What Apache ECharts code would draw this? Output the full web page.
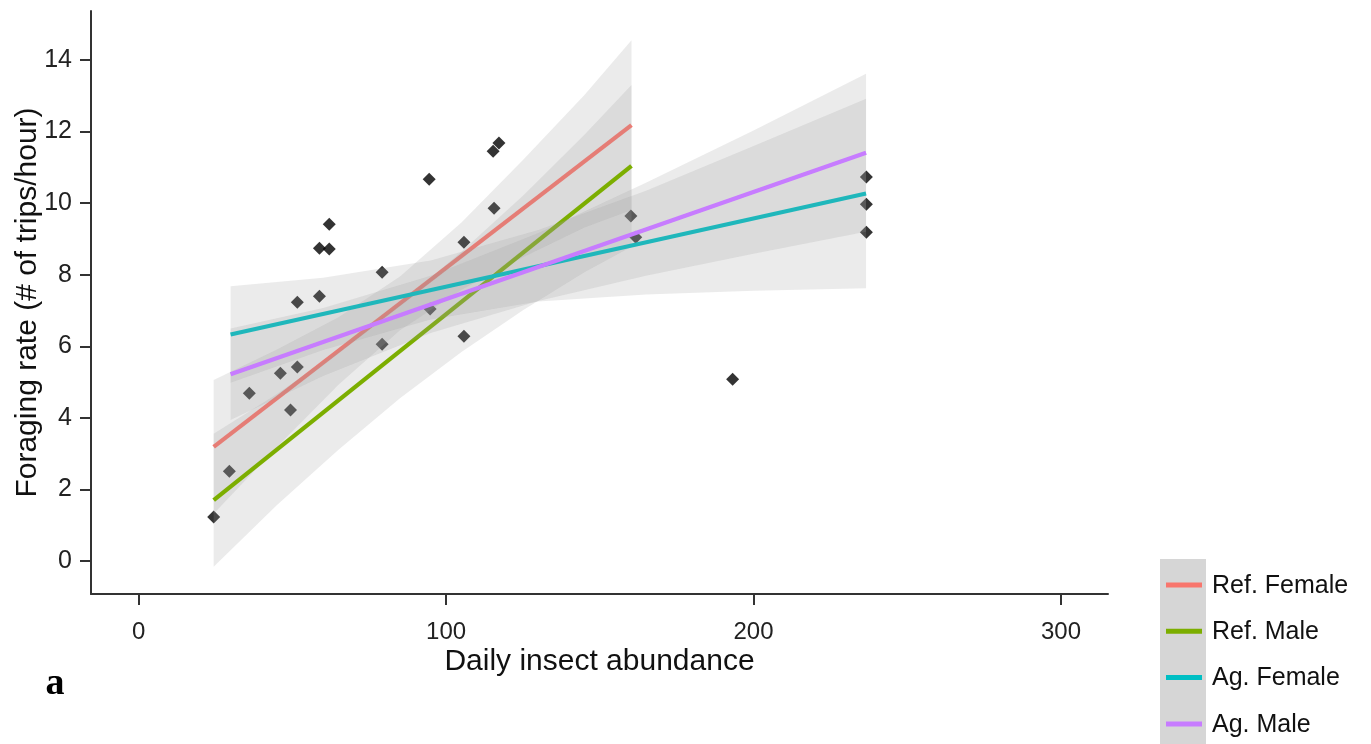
<!DOCTYPE html>
<html>
<head>
<meta charset="utf-8">
<title>Foraging rate vs daily insect abundance</title>
<script src="https://cdn.jsdelivr.net/npm/echarts@6/dist/echarts.min.js"></script>
<style>
  html, body { margin: 0; padding: 0; background: #fff; }
  #chart { width: 1371px; height: 744px; }
</style>
</head>
<body>
<div id="chart"></div>
<script>
// Observed days: insect abundance and foraging trips per hour
const abundance = [24.4, 29.5, 36.0, 46.1, 49.4, 51.6, 51.6, 58.8, 58.8, 62.0, 62.0, 79.2, 79.2,
  94.5, 94.8, 105.8, 105.8, 115.6, 115.3, 117.2, 160.1, 161.7, 193.2, 236.7, 236.7, 236.7];
const foragingRate = [1.23, 2.51, 4.69, 5.25, 4.22, 5.42, 7.23, 7.40, 8.74, 8.72, 9.41, 8.07, 6.06,
  10.67, 7.04, 8.91, 6.28, 9.86, 11.45, 11.68, 9.64, 9.05, 5.08, 10.73, 9.97, 9.19];

// Group names and colours
const groupNames = ['Ref. Female', 'Ref. Male', 'Ag. Female', 'Ag. Male'];
const groupColors = ['#F8766D', '#7CAE00', '#00BFC4', '#C77CFF'];

// Fitted regression lines (start and end of each fit)
const refFemaleFit = [[24.4, 3.19], [160.3, 12.18]];
const refMaleFit = [[24.4, 1.70], [160.3, 11.04]];
const agFemaleFit = [[29.9, 6.33], [236.6, 10.27]];
const agMaleFit = [[29.9, 5.22], [236.6, 11.41]];

// Confidence bands of the fits
const refBandX = [24.4, 45, 65, 85, 105, 125, 145, 160.3];
const refFemaleLower = [1.32, 3.19, 4.93, 6.45, 7.58, 8.49, 9.32, 9.81];
const refFemaleUpper = [5.06, 5.91, 6.81, 7.95, 9.46, 11.21, 13.02, 14.55];
const refMaleLower = [-0.16, 1.57, 3.11, 4.55, 5.84, 7.01, 8.07, 8.78];
const refMaleUpper = [3.56, 4.67, 5.87, 7.19, 8.64, 10.21, 11.91, 13.30];

const agBandX = [29.9, 60, 95, 130, 165, 200, 236.6];
const agFemaleLower = [4.98, 5.90, 6.75, 7.25, 7.45, 7.55, 7.62];
const agFemaleUpper = [7.68, 7.92, 8.40, 9.25, 10.35, 11.60, 12.92];
const agMaleLower = [3.94, 5.17, 6.37, 7.27, 7.97, 8.59, 9.20];
const agMaleUpper = [6.50, 7.07, 7.97, 9.17, 10.57, 12.03, 13.62];

// Axis ticks
const xTicks = [0, 100, 200, 300];
const yTicks = [0, 2, 4, 6, 8, 10, 12, 14];

const FONT = '"Liberation Sans", Arial, sans-serif';
const BAND_FILL = 'rgba(153,153,153,0.2)';
const AXIS_COLOR = '#333333';

function bandRows(xs, lo, hi) {
  return xs.map((x, i) => [x, lo[i], hi[i]]);
}

// A ribbon drawn as one polygon through the axis scales
function ribbonSeries(rows, z) {
  return {
    type: 'custom',
    z: z,
    silent: true,
    data: rows,
    encode: { x: 0, y: [1, 2] },
    renderItem: function (params, api) {
      if (params.dataIndex !== 0) return null;
      const upper = rows.map(r => api.coord([r[0], r[2]]));
      const lower = rows.slice().reverse().map(r => api.coord([r[0], r[1]]));
      return {
        type: 'polygon',
        shape: { points: upper.concat(lower) },
        style: { fill: BAND_FILL, stroke: null }
      };
    }
  };
}

function fitSeries(name, data, color, z) {
  return {
    type: 'line',
    name: name,
    z: z,
    silent: true,
    data: data,
    symbol: 'none',
    lineStyle: { color: color, width: 4.2 },
    itemStyle: { color: color }
  };
}

const groups = [
  { band: bandRows(refBandX, refFemaleLower, refFemaleUpper), fit: refFemaleFit },
  { band: bandRows(refBandX, refMaleLower, refMaleUpper), fit: refMaleFit },
  { band: bandRows(agBandX, agFemaleLower, agFemaleUpper), fit: agFemaleFit },
  { band: bandRows(agBandX, agMaleLower, agMaleUpper), fit: agMaleFit }
];

// Points first, then each group's ribbon followed by its line
const series = [{
  type: 'scatter',
  z: 1,
  silent: true,
  data: abundance.map((x, i) => [x, foragingRate[i]]),
  symbol: 'diamond',
  symbolSize: 13,
  itemStyle: { color: '#000000' }
}];
groups.forEach((g, i) => {
  series.push(ribbonSeries(g.band, 2 + 2 * i));
  series.push(fitSeries(groupNames[i], g.fit, groupColors[i], 3 + 2 * i));
});

// Legend: grey key column with coloured strokes and labels
const legendTop = 585, legendStep = 46.3;
const legendGraphics = [{
  type: 'rect',
  shape: { x: 1160, y: 559, width: 46, height: 185 },
  style: { fill: '#D6D6D6' },
  silent: true
}];
groupNames.forEach((name, i) => {
  const y = legendTop + i * legendStep;
  legendGraphics.push({
    type: 'line',
    shape: { x1: 1166, y1: y, x2: 1202, y2: y },
    style: { stroke: groupColors[i], lineWidth: 5 },
    silent: true
  });
  legendGraphics.push({
    type: 'text',
    x: 1212, y: y + 1,
    style: { text: name, font: '25px ' + FONT, fill: '#111', verticalAlign: 'middle', align: 'left' },
    silent: true
  });
});
legendGraphics.push({
  type: 'text',
  x: 55, y: 684,
  style: { text: 'a', font: 'bold 38px "Liberation Serif", "Times New Roman", serif', fill: '#000', align: 'center', verticalAlign: 'middle' },
  silent: true
});

const option = {
  animation: false,
  grid: { left: 91, right: 263, top: 11, bottom: 150, outerBoundsMode: 'none', containLabel: false },
  xAxis: {
    type: 'value',
    min: -15.5,
    max: 315.3,
    name: 'Daily insect abundance',
    nameLocation: 'middle',
    nameGap: 53,
    nameMoveOverlap: false,
    nameTextStyle: { fontSize: 30, color: '#111', fontFamily: FONT },
    axisLine: { onZero: false, lineStyle: { color: AXIS_COLOR, width: 2 } },
    axisTick: { show: true, length: 11, customValues: xTicks, lineStyle: { color: AXIS_COLOR, width: 2 } },
    axisLabel: { customValues: xTicks, fontSize: 24, color: '#222', fontFamily: FONT, margin: 26 },
    splitLine: { show: false }
  },
  yAxis: {
    type: 'value',
    min: -0.92,
    max: 15.37,
    name: 'Foraging rate (# of trips/hour)',
    nameLocation: 'middle',
    nameRotate: 90,
    nameGap: 48,
    nameMoveOverlap: false,
    nameTextStyle: { fontSize: 30, color: '#111', fontFamily: FONT },
    axisLine: { onZero: false, lineStyle: { color: AXIS_COLOR, width: 2 } },
    axisTick: { show: true, length: 11, customValues: yTicks, lineStyle: { color: AXIS_COLOR, width: 2 } },
    axisLabel: { customValues: yTicks, fontSize: 25, color: '#222', fontFamily: FONT, margin: 19 },
    splitLine: { show: false }
  },
  graphic: legendGraphics,
  series: series
};

const chart = echarts.init(document.getElementById('chart'), null, { renderer: 'canvas' });
chart.setOption(option);
</script>
</body>
</html>
